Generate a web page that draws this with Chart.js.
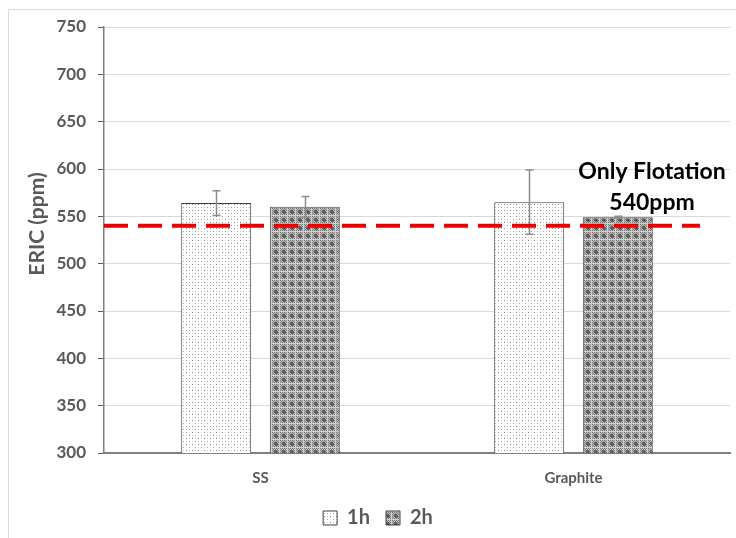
<!DOCTYPE html>
<html>
<head>
<meta charset="utf-8">
<script src="https://cdn.jsdelivr.net/npm/chart.js@4.4.1/dist/chart.umd.min.js"></script>
<style>
  html, body { margin: 0; padding: 0; background: #fff; }
  #wrap { position: relative; width: 736px; height: 538px; overflow: hidden; }
  #frame { position: absolute; left: 8px; top: 9px; width: 760px; height: 560px;
           border: 1px solid #d9d9d9; box-sizing: border-box; }
  #c { position: absolute; left: 0; top: 0; }
</style>
</head>
<body>
<div id="wrap">
  <div id="frame"></div>
  <canvas id="c" width="736" height="538"></canvas>
</div>
<script>
// Electrode material groups and flotation times
const categories = ['SS', 'Graphite'];
const seriesNames = ['1h', '2h'];

// ERIC values (ppm) and their error half-widths
const values1h = [564, 565];
const values2h = [560, 549];
const errors1h = [13, 34];
const errors2h = [11, 1];

// Reference level reached by flotation alone
const flotationPpm = 540;
const flotationText = ['Only Flotation', flotationPpm + 'ppm'];

// Y axis range and title
const yMin = 300;
const yMax = 750;
const yStep = 50;
const yTitle = 'ERIC (ppm)';

const FONT = 'Lato, "Open Sans", sans-serif';
const TEXT_GRAY = '#595959';

// Fill patterns for the bars
function dottedPattern() {
  const c = document.createElement('canvas');
  c.width = 6; c.height = 6;
  const g = c.getContext('2d');
  g.fillStyle = '#ffffff'; g.fillRect(0, 0, 6, 6);
  g.fillStyle = '#808080'; g.fillRect(0, 0, 1, 1);
  g.fillStyle = '#a0a0a0'; g.fillRect(3, 3, 1, 1);
  g.fillStyle = '#d0d0d0'; g.fillRect(3, 0, 1, 1); g.fillRect(0, 3, 1, 1);
  return g.createPattern(c, 'repeat');
}
function gridPattern() {
  const c = document.createElement('canvas');
  c.width = 8; c.height = 8;
  const g = c.getContext('2d');
  for (let y = 0; y < 8; y++) {
    for (let x = 0; x < 8; x++) {
      g.fillStyle = ((x + y) % 2 === 0) ? '#767676' : '#c2c2c2';
      g.fillRect(x, y, 1, 1);
    }
  }
  g.fillStyle = '#5e5e5e';
  g.fillRect(3, 2, 2, 4);
  g.fillRect(2, 3, 4, 2);
  g.fillStyle = '#d0d0d0';
  g.fillRect(0, 7, 8, 1);
  g.fillRect(7, 0, 1, 8);
  return g.createPattern(c, 'repeat');
}

const errorSets = [errors1h, errors2h];

// Vertical error bars with caps, placed through the chart's own scales
const errorBarPlugin = {
  id: 'errorBars',
  afterDatasetsDraw(chart) {
    const ctx = chart.ctx;
    const yScale = chart.scales.y;
    ctx.save();
    ctx.strokeStyle = '#8c8c8c';
    ctx.lineWidth = 1.5;
    chart.data.datasets.forEach((ds, di) => {
      const meta = chart.getDatasetMeta(di);
      meta.data.forEach((bar, i) => {
        const v = ds.data[i];
        const e = errorSets[di][i];
        const yTop = yScale.getPixelForValue(v + e);
        const yBot = yScale.getPixelForValue(v - e);
        const x = Math.round(bar.x) + 0.5;
        ctx.beginPath();
        ctx.moveTo(x, yTop); ctx.lineTo(x, yBot);
        ctx.moveTo(x - 4, yTop); ctx.lineTo(x + 4, yTop);
        ctx.moveTo(x - 4, yBot); ctx.lineTo(x + 4, yBot);
        ctx.stroke();
      });
    });
    ctx.restore();
  }
};

// Dashed flotation reference line and its note
const flotationPlugin = {
  id: 'flotationLine',
  afterDatasetsDraw(chart) {
    const ctx = chart.ctx;
    const area = chart.chartArea;
    const y = chart.scales.y.getPixelForValue(flotationPpm);
    ctx.save();
    ctx.strokeStyle = '#e60000';
    ctx.lineWidth = 4;
    ctx.setLineDash([24, 10]);
    ctx.beginPath();
    ctx.moveTo(area.left, y);
    ctx.lineTo(area.right - 30, y);
    ctx.stroke();
    ctx.restore();
  },
  afterDraw(chart) {
    const ctx = chart.ctx;
    const area = chart.chartArea;
    const y = chart.scales.y.getPixelForValue(flotationPpm);
    ctx.save();
    ctx.fillStyle = '#000000';
    ctx.font = 'bold 23px ' + FONT;
    ctx.textAlign = 'center';
    ctx.textBaseline = 'alphabetic';
    const cx = area.right - 78;
    ctx.fillText(flotationText[0], cx, y - 47);
    ctx.fillText(flotationText[1], cx, y - 16);
    ctx.restore();
  }
};

// Rotated y axis title, set beside the tick labels
const yTitlePlugin = {
  id: 'yTitle',
  afterDraw(chart) {
    const ctx = chart.ctx;
    const area = chart.chartArea;
    ctx.save();
    ctx.translate(37, (area.top + area.bottom) / 2 - 16);
    ctx.rotate(-Math.PI / 2);
    ctx.fillStyle = TEXT_GRAY;
    ctx.font = 'bold 21px ' + FONT;
    ctx.textAlign = 'center';
    ctx.textBaseline = 'middle';
    ctx.fillText(yTitle, 0, 0);
    ctx.restore();
  }
};

const yTickValues = [];
for (let v = yMin; v <= yMax; v += yStep) yTickValues.push(v);

new Chart(document.getElementById('c'), {
  type: 'bar',
  data: {
    labels: categories,
    datasets: [
      {
        label: seriesNames[0],
        data: values1h,
        backgroundColor: dottedPattern(),
        borderColor: '#404040',
        borderWidth: 1,
        categoryPercentage: 0.566,
        barPercentage: 0.79
      },
      {
        label: seriesNames[1],
        data: values2h,
        backgroundColor: gridPattern(),
        borderColor: '#404040',
        borderWidth: 1,
        categoryPercentage: 0.566,
        barPercentage: 0.79
      }
    ]
  },
  options: {
    responsive: false,
    animation: false,
    devicePixelRatio: 1,
    layout: { padding: { left: 26, right: 6, top: 27, bottom: 0 } },
    plugins: {
      tooltip: { enabled: false },
      legend: {
        position: 'bottom',
        labels: {
          boxWidth: 14,
          boxHeight: 14,
          padding: 16,
          color: TEXT_GRAY,
          font: { family: FONT, size: 20, weight: 'bold' }
        }
      }
    },
    scales: {
      x: {
        grid: { display: false, drawTicks: false },
        border: { display: true, color: '#808080', width: 2 },
        ticks: {
          color: TEXT_GRAY,
          padding: 16,
          font: { family: FONT, size: 15, weight: 'bold' }
        },
        afterFit(scale) { scale.height = 39; }
      },
      y: {
        min: yMin,
        max: yMax,
        afterBuildTicks(scale) { scale.ticks = yTickValues.map(v => ({ value: v })); },
        grid: { color: '#d9d9d9', lineWidth: 1, tickColor: '#595959', tickLength: 6 },
        border: { display: true, color: '#7f7f7f', width: 1.5 },
        ticks: {
          color: TEXT_GRAY,
          padding: 12,
          font: { family: FONT, size: 17, weight: 'bold' }
        },
        afterFit(scale) { scale.width = 78; }
      }
    }
  },
  plugins: [errorBarPlugin, flotationPlugin, yTitlePlugin]
});
</script>
</body>
</html>
